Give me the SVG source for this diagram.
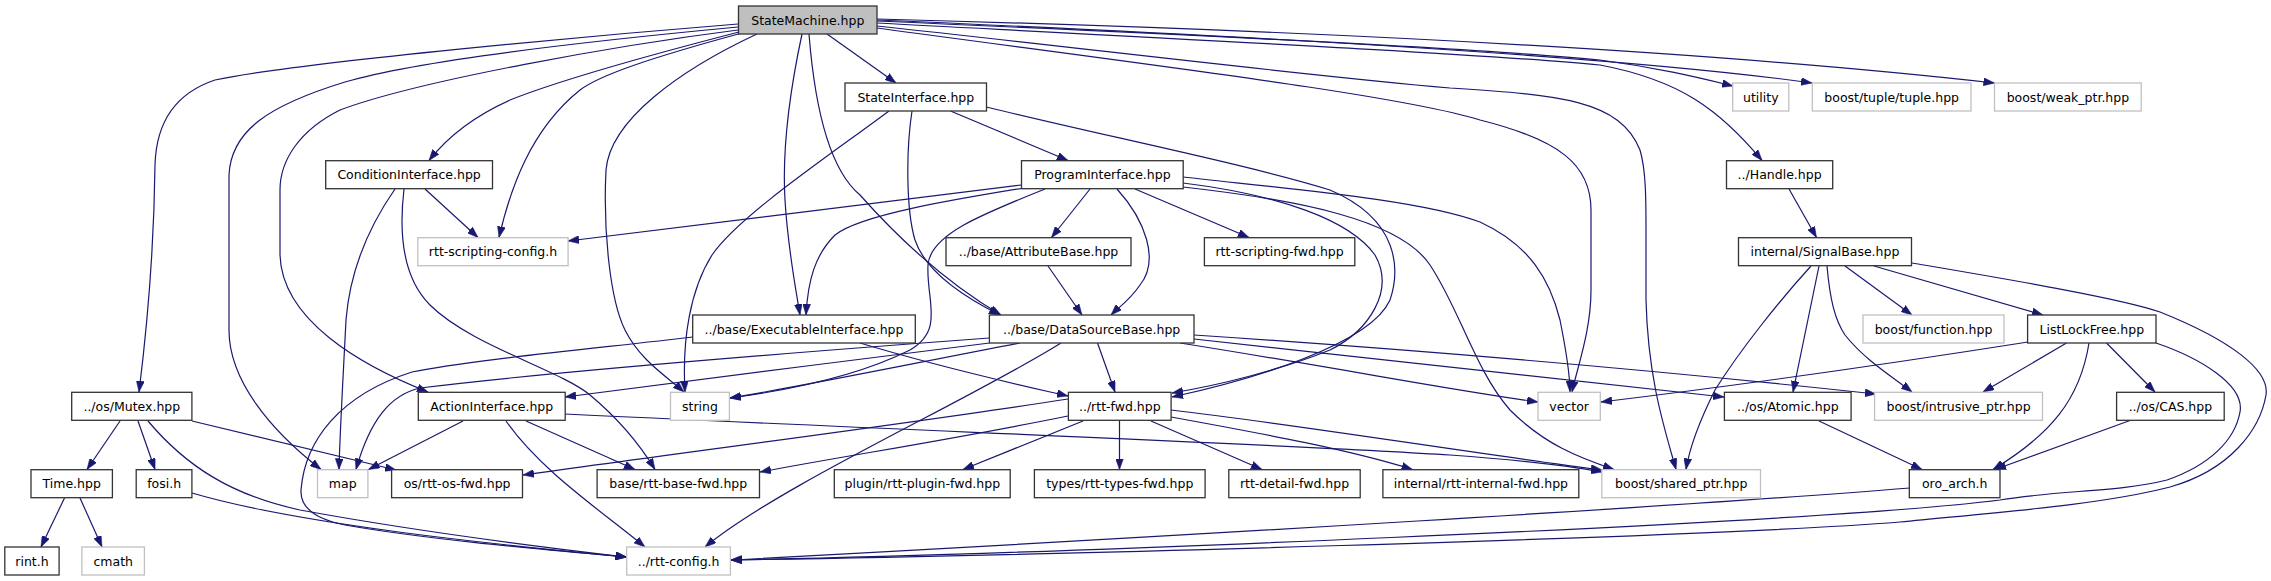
<svg xmlns="http://www.w3.org/2000/svg" width="2271" height="581" viewBox="0 0 2271 581">
<style>
.n rect{fill:#fff;stroke:#333;stroke-width:1.3}
.n.g rect{stroke:#c0c0c0}
.n.r rect{fill:#bfbfbf}
.n text{font-family:"DejaVu Sans","Liberation Sans",sans-serif;font-size:12.5px;text-anchor:middle;fill:#000}
#edges path{fill:none;stroke:#191970;stroke-width:1.2;marker-end:url(#a)}
</style>
<defs>
<marker id="a" markerUnits="userSpaceOnUse" markerWidth="11" markerHeight="8" refX="11" refY="4" orient="auto"><path d="M0,0 L11,4 L0,8 z" fill="#191970" stroke="#191970" stroke-width="0.5"/></marker>
</defs>
<rect width="2271" height="581" fill="#fff"/>
<g id="edges">
<path d="M738,24 C600,35 300,62 215,80 C170,95 156,130 155,165 C154,250 148,320 139,392"/>
<path d="M738,27 C600,40 420,60 345,82 C270,105 231,130 229,175 L229,330 C229,380 270,430 321,469.5"/>
<path d="M738,30 C620,45 420,80 340,110 C300,130 280,160 280,190 L280,255 C282,320 360,365 428,392"/>
<path d="M739,32 C650,55 560,80 510,100 C470,118 445,140 429,160.5"/>
<path d="M742,33 C650,58 600,75 580,90 C530,130 510,190 499,237.5"/>
<path d="M757,34 C680,70 610,120 606,170 C603,230 610,300 625,330 C640,360 665,375 684,392"/>
<path d="M802,34 C790,90 782,150 785,200 C788,250 796,290 800,315"/>
<path d="M809,34 C815,110 830,170 860,195 C900,240 950,285 1001,315"/>
<path d="M827,34 L896,83"/>
<path d="M877,28 C1150,65 1400,95 1480,120 C1560,140 1591,165 1591,210 L1591,290 C1591,330 1578,365 1572,392"/>
<path d="M877,26 C1100,50 1300,75 1450,88 C1560,95 1620,100 1640,150 C1646,170 1646,200 1646,230 L1646,300 C1648,380 1665,430 1676,469.5"/>
<path d="M877,23 C1200,40 1500,55 1600,65 C1680,80 1720,110 1762,160.5"/>
<path d="M877,21 C1200,35 1500,50 1600,60 C1660,68 1700,78 1733,86"/>
<path d="M877,20 C1300,38 1650,60 1812,83"/>
<path d="M877,19 C1300,30 1700,50 1994.5,83"/>
<path d="M950.5,111 L1068,160.5"/>
<path d="M889,111 C830,155 740,215 712,255 C690,290 682,340 685,392"/>
<path d="M912,111 C906,150 906,210 915,240 C925,270 960,295 1000,315"/>
<path d="M986.5,107 C1100,135 1250,165 1330,190 C1400,220 1400,270 1390,300 C1370,345 1250,380 1172,397"/>
<path d="M1183,183 C1280,195 1350,220 1375,255 C1395,290 1370,330 1330,350 C1280,370 1220,385 1172,393"/>
<path d="M1021.5,185 L568,241"/>
<path d="M1030,187 C950,200 860,215 835,235 C815,255 808,280 806,315"/>
<path d="M1045,189 C980,215 930,235 928,265 C926,300 945,330 910,350 C860,375 790,390 730,398"/>
<path d="M1090,189 L1051.5,237.5"/>
<path d="M1135,189 L1249,237.5"/>
<path d="M1117,189 C1145,220 1160,260 1140,285 C1130,300 1118,308 1111,315"/>
<path d="M1183,177 C1300,190 1420,200 1480,222 C1530,245 1550,280 1560,320 C1566,350 1570,375 1570,392"/>
<path d="M1183,187 C1300,200 1400,220 1430,265 C1460,310 1475,370 1510,410 C1545,445 1580,458 1614,469.5"/>
<path d="M989.5,343 C850,360 700,380 565,397"/>
<path d="M989.5,338 C800,352 550,372 420,388 C390,395 370,420 356,469.5"/>
<path d="M1020,343 C920,362 810,385 730,398"/>
<path d="M1097.5,343 L1115,392"/>
<path d="M1061,343 C970,400 780,485 705,547"/>
<path d="M1194,335 C1450,352 1700,375 1876,394"/>
<path d="M1194,339 C1400,362 1600,385 1724,397"/>
<path d="M1180,343 C1350,370 1450,390 1538,402"/>
<path d="M860,343 C950,370 1020,385 1068,396"/>
<path d="M693,337 C600,348 470,360 412,372 C340,395 305,440 301,490 C300,510 320,520 345,525 C430,540 550,550 626.5,557"/>
<path d="M463,421 L368.5,469.5"/>
<path d="M506,421 C540,470 600,510 645,547"/>
<path d="M526,421 L635,469.5"/>
<path d="M565,414 C900,430 1300,445 1450,455 C1520,460 1570,466 1602,472"/>
<path d="M1068,399 C900,425 700,450 523,475"/>
<path d="M1068,416 C950,440 850,455 760,472"/>
<path d="M1083,421 L963,469.5"/>
<path d="M1119.5,421 L1119.5,469.5"/>
<path d="M1151,421 L1262,469.5"/>
<path d="M1171,417 C1270,435 1350,450 1412.5,469.5"/>
<path d="M1171,410 C1300,425 1450,450 1602,470"/>
<path d="M120,421 L87,469.5"/>
<path d="M138,421 L155,469.5"/>
<path d="M148,421 C185,465 230,495 300,510 C420,532 540,547 626.5,557"/>
<path d="M192,421 L396,470"/>
<path d="M192,493 C300,525 500,545 626.5,557"/>
<path d="M64.5,498 L41,547"/>
<path d="M80,498 L102,547"/>
<path d="M425,189 L478,237.5"/>
<path d="M395,189 C370,225 350,270 346,320 C343,380 340,430 339,469.5"/>
<path d="M404,189 C398,240 405,280 430,305 C470,345 560,370 590,395 C620,420 640,445 655,469.5"/>
<path d="M1048,266 L1082,315"/>
<path d="M1789,189 L1816.5,237.5"/>
<path d="M1811,266 C1780,300 1740,350 1715,390 C1700,420 1690,445 1686,469.5"/>
<path d="M1819,266 L1793,392"/>
<path d="M1827,266 C1830,300 1835,320 1845,335 C1865,360 1890,375 1912,392"/>
<path d="M1845,266 L1912,315"/>
<path d="M1874,266 L2043,315"/>
<path d="M1912,263 C2000,278 2120,298 2160,312 C2230,340 2270,370 2266,395 C2260,430 2230,470 2170,487 C2100,505 2000,512 1900,522 C1700,538 1000,556 731,560"/>
<path d="M2156,343 C2200,358 2245,385 2240,412 C2235,440 2210,465 2167,480 C2120,492 2060,490 2000,500 C1800,525 1000,555 731,560"/>
<path d="M2028,342 C1850,370 1700,390 1601,402"/>
<path d="M2066.5,343 L1983,392"/>
<path d="M2089,343 C2080,400 2050,435 1993,469.5"/>
<path d="M2106.5,343 L2155,392"/>
<path d="M1819,421 L1922,469.5"/>
<path d="M2130,420.5 L1995,469.5"/>
<path d="M1910,488 C1700,505 1200,535 731,560"/>
</g>
<g id="n-statemachine" class="n r"><rect x="738.5" y="6" width="138.5" height="28"/><text x="807.8" y="24.5">StateMachine.hpp</text></g>
<g id="n-stateinterface" class="n"><rect x="845" y="83" width="141.5" height="28"/><text x="915.8" y="101.5">StateInterface.hpp</text></g>
<g id="n-utility" class="n g"><rect x="1732.7" y="83" width="56.1" height="28"/><text x="1760.8" y="101.5">utility</text></g>
<g id="n-tuple" class="n g"><rect x="1812.3" y="83" width="158.7" height="28"/><text x="1891.7" y="101.5">boost/tuple/tuple.hpp</text></g>
<g id="n-weakptr" class="n g"><rect x="1994.5" y="83" width="146.7" height="28"/><text x="2067.9" y="101.5">boost/weak_ptr.hpp</text></g>
<g id="n-condition" class="n"><rect x="325.7" y="160.7" width="166.8" height="28"/><text x="409.1" y="179.2">ConditionInterface.hpp</text></g>
<g id="n-program" class="n"><rect x="1021.5" y="160.7" width="161.7" height="28"/><text x="1102.4" y="179.2">ProgramInterface.hpp</text></g>
<g id="n-handle" class="n"><rect x="1726.5" y="160.7" width="106.2" height="28"/><text x="1779.6" y="179.2">../Handle.hpp</text></g>
<g id="n-scriptingconfig" class="n g"><rect x="417.8" y="237.7" width="150.3" height="28"/><text x="493" y="256.2">rtt-scripting-config.h</text></g>
<g id="n-attributebase" class="n"><rect x="946" y="237.7" width="185" height="28"/><text x="1038.5" y="256.2">../base/AttributeBase.hpp</text></g>
<g id="n-scriptingfwd" class="n"><rect x="1204.4" y="237.7" width="150.4" height="28"/><text x="1279.6" y="256.2">rtt-scripting-fwd.hpp</text></g>
<g id="n-signalbase" class="n"><rect x="1738.5" y="237.7" width="173" height="28"/><text x="1825" y="256.2">internal/SignalBase.hpp</text></g>
<g id="n-executable" class="n"><rect x="692.7" y="315" width="222.6" height="28"/><text x="804" y="333.5">../base/ExecutableInterface.hpp</text></g>
<g id="n-datasourcebase" class="n"><rect x="989.4" y="315" width="204.6" height="28"/><text x="1091.7" y="333.5">../base/DataSourceBase.hpp</text></g>
<g id="n-function" class="n g"><rect x="1863" y="315" width="141" height="28"/><text x="1933.5" y="333.5">boost/function.hpp</text></g>
<g id="n-listlockfree" class="n"><rect x="2027.6" y="315" width="128.4" height="28"/><text x="2091.8" y="333.5">ListLockFree.hpp</text></g>
<g id="n-mutex" class="n"><rect x="71.7" y="392.3" width="120.2" height="28"/><text x="131.8" y="410.8">../os/Mutex.hpp</text></g>
<g id="n-action" class="n"><rect x="418.3" y="392.3" width="146.9" height="28"/><text x="491.8" y="410.8">ActionInterface.hpp</text></g>
<g id="n-string" class="n g"><rect x="670.5" y="392.3" width="58.9" height="28"/><text x="700" y="410.8">string</text></g>
<g id="n-rttfwd" class="n"><rect x="1068.4" y="392.3" width="102.7" height="28"/><text x="1119.8" y="410.8">../rtt-fwd.hpp</text></g>
<g id="n-vector" class="n g"><rect x="1538" y="392.3" width="62.3" height="28"/><text x="1569.2" y="410.8">vector</text></g>
<g id="n-atomic" class="n"><rect x="1724.4" y="392.3" width="126.7" height="28"/><text x="1787.8" y="410.8">../os/Atomic.hpp</text></g>
<g id="n-intrusive" class="n g"><rect x="1874.6" y="392.3" width="167.9" height="28"/><text x="1958.6" y="410.8">boost/intrusive_ptr.hpp</text></g>
<g id="n-cas" class="n"><rect x="2116.6" y="392.3" width="107.6" height="28"/><text x="2170.4" y="410.8">../os/CAS.hpp</text></g>
<g id="n-time" class="n"><rect x="31" y="469.7" width="81.4" height="28"/><text x="71.7" y="488.2">Time.hpp</text></g>
<g id="n-fosi" class="n"><rect x="136.2" y="469.7" width="55.7" height="28"/><text x="164.1" y="488.2">fosi.h</text></g>
<g id="n-map" class="n g"><rect x="317.5" y="469.7" width="50.4" height="28"/><text x="342.7" y="488.2">map</text></g>
<g id="n-osfwd" class="n"><rect x="391.6" y="469.7" width="130.9" height="28"/><text x="457.1" y="488.2">os/rtt-os-fwd.hpp</text></g>
<g id="n-basefwd" class="n"><rect x="597.1" y="469.7" width="162.4" height="28"/><text x="678.3" y="488.2">base/rtt-base-fwd.hpp</text></g>
<g id="n-pluginfwd" class="n"><rect x="834.3" y="469.7" width="175.9" height="28"/><text x="922.3" y="488.2">plugin/rtt-plugin-fwd.hpp</text></g>
<g id="n-typesfwd" class="n"><rect x="1034.4" y="469.7" width="170.7" height="28"/><text x="1119.8" y="488.2">types/rtt-types-fwd.hpp</text></g>
<g id="n-detailfwd" class="n"><rect x="1228.8" y="469.7" width="131.4" height="28"/><text x="1294.5" y="488.2">rtt-detail-fwd.hpp</text></g>
<g id="n-internalfwd" class="n"><rect x="1382.9" y="469.7" width="195.9" height="28"/><text x="1480.9" y="488.2">internal/rtt-internal-fwd.hpp</text></g>
<g id="n-sharedptr" class="n g"><rect x="1601.8" y="469.7" width="158.7" height="28"/><text x="1681.2" y="488.2">boost/shared_ptr.hpp</text></g>
<g id="n-oroarch" class="n"><rect x="1909.3" y="469.7" width="90.7" height="28"/><text x="1954.7" y="488.2">oro_arch.h</text></g>
<g id="n-rint" class="n"><rect x="4.8" y="547" width="54.3" height="28"/><text x="32" y="565.5">rint.h</text></g>
<g id="n-cmath" class="n g"><rect x="81.9" y="547" width="62.5" height="28"/><text x="113.2" y="565.5">cmath</text></g>
<g id="n-rttconfig" class="n g"><rect x="626.7" y="547" width="103.7" height="28"/><text x="678.6" y="565.5">../rtt-config.h</text></g>
</svg>
